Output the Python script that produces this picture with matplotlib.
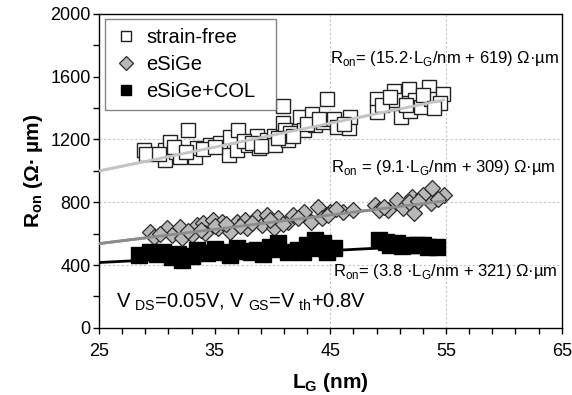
import numpy as np
import matplotlib.pyplot as plt
from matplotlib.ticker import MultipleLocator

plt.rcParams['font.family'] = ['Liberation Sans', 'DejaVu Sans']
plt.rcParams['mathtext.fontset'] = 'custom'
plt.rcParams['mathtext.rm'] = 'Liberation Sans'
plt.rcParams['mathtext.bf'] = 'Liberation Sans:bold'

# gate length (nm) / on-resistance (ohm*um)
lg_sf = [28.9, 29.1, 30.7, 31.1, 32.7, 30.7, 31.7, 32.0, 33.3, 33.5,
         34.6, 35.5, 36.2, 36.3, 37.0, 36.9, 37.9, 38.7, 38.8, 39.5,
         40.1, 40.2, 40.9, 40.9, 41.1, 41.3, 41.5,
         42.4, 42.7, 43.4, 43.7, 44.7, 44.4, 45.3, 45.6, 46.6, 46.7,
         49.0, 49.0, 50.5, 50.6, 51.1, 51.8, 51.9, 52.3, 52.8, 53.5, 53.7, 54.7, 54.5,
         30.2, 31.5, 32.5, 34.0, 35.0, 37.5, 38.2, 39.0, 40.5, 41.8,
         43.0, 44.0, 46.2, 49.5, 50.2, 51.5, 53.0, 54.0]
ron_sf = [1130, 1105, 1130, 1183, 1257, 1067, 1119, 1088, 1088, 1143,
          1162, 1175, 1098, 1215, 1257, 1130, 1162, 1225, 1143, 1194,
          1225, 1162, 1416, 1302, 1257, 1194, 1238,
          1342, 1257, 1365, 1289, 1460, 1310, 1333, 1278, 1270, 1342,
          1460, 1373, 1511, 1448, 1342, 1524, 1384, 1448, 1405, 1532, 1460, 1492, 1429,
          1110, 1150, 1120, 1140, 1150, 1190, 1180, 1160, 1210, 1220,
          1300, 1330, 1300, 1420, 1470, 1420, 1480, 1400]

lg_sige = [29.4, 29.8, 30.9, 31.3, 32.0, 32.2, 33.0, 33.5, 34.0, 34.2,
           34.9, 35.3, 35.6, 36.3, 36.9, 37.6, 37.8, 38.7, 39.1, 39.5,
           40.1, 40.5, 41.3, 41.8, 42.7, 43.3, 43.9, 44.3, 45.0, 46.1, 47.0,
           48.9, 49.2, 50.0, 50.8, 51.3, 52.1, 52.2, 53.0, 53.8, 53.7, 54.8,
           30.3, 32.7, 33.8, 35.0, 36.0, 37.2, 38.2, 39.8, 40.9, 42.2,
           44.8, 45.5, 49.6, 51.8, 52.6, 54.3]
ron_sige = [611, 580, 635, 590, 643, 571, 590, 654, 667, 603,
            686, 635, 675, 611, 675, 686, 635, 707, 654, 717,
            635, 698, 675, 717, 738, 675, 770, 698, 738, 738, 749,
            781, 749, 749, 813, 762, 834, 730, 844, 889, 794, 844,
            600, 620, 625, 650, 660, 650, 670, 690, 660, 700,
            720, 760, 770, 800, 810, 820]

lg_col = [28.5, 29.4, 30.5, 31.3, 32.2, 33.5, 34.3, 35.5, 36.3, 36.9,
          38.1, 38.7, 39.8, 40.5, 41.3, 42.2, 43.0, 43.7, 44.4, 44.7, 45.3,
          49.2, 49.8, 50.8, 51.6, 52.5, 53.4, 54.2,
          30.0, 31.8, 33.0, 35.0, 37.5, 39.2, 40.0, 42.6, 44.0, 50.2, 51.2, 53.0]
ron_col = [463, 484, 484, 453, 432, 495, 476, 484, 463, 508,
           484, 495, 516, 540, 484, 495, 527, 559, 540, 484, 508,
           559, 548, 540, 527, 527, 516, 516,
           470, 470, 460, 500, 490, 470, 500, 480, 510, 530, 520, 530]

# linear fits: slope, intercept, end of fitted range
fit_sf = (15.2, 619, 54.8)
fit_sige = (9.1, 309, 54.8)
fit_col = (3.8, 321, 54.2)

fig = plt.figure(figsize=(5.72, 3.95), dpi=100)
ax = fig.add_axes([0.173, 0.17, 0.809, 0.795])

for (k, b, xe), c in [(fit_sf, '#c4c4c4'), (fit_sige, '#8c8c8c'), (fit_col, 'black')]:
    xx = np.array([25, xe])
    ax.plot(xx, k * xx + b, color=c, lw=2, zorder=2)

ax.plot(lg_sf, ron_sf, 's', ms=9.5, mfc='white', mec='#222222', mew=1.0,
        label='strain-free', zorder=3)
ax.plot(lg_sige, ron_sige, 'D', ms=8, mfc='#b8b8b8', mec='#2a2a2a', mew=0.9,
        label='eSiGe', zorder=3)
ax.plot(lg_col, ron_col, 's', ms=11.5, mfc='black', mec='black',
        label='eSiGe+COL', zorder=3)

# fit lines for the two upper sets sit over their markers
for (k, b, xe), c in [(fit_sf, '#c4c4c4'), (fit_sige, '#8c8c8c')]:
    xx = np.array([25, xe])
    ax.plot(xx, k * xx + b, color=c, lw=2, zorder=4)

for x in (45, 55):
    ax.axvline(x, color='#c4c4c4', ls=(0, (2, 2)), lw=0.8, zorder=1)
for y in (400, 800, 1200):
    ax.axhline(y, color='#c4c4c4', ls=(0, (2, 2)), lw=0.8, zorder=1)

ax.set_xlim(25, 65)
ax.set_ylim(0, 2000)
ax.set_xticks([25, 35, 45, 55, 65])
ax.set_xticks(np.arange(25, 66, 2), minor=True)
ax.yaxis.set_major_locator(MultipleLocator(400))
ax.yaxis.set_minor_locator(MultipleLocator(200))
ax.tick_params(which='both', direction='out', length=4, width=1, labelsize=13,
               colors='black')
ax.tick_params(axis='y', pad=2)
ax.tick_params(axis='x', pad=7)
for s in ax.spines.values():
    s.set_linewidth(1.0)

ax.set_xlabel(r'$\mathbf{L_G}$ (nm)', fontsize=15, fontweight='bold', labelpad=8)
ax.set_ylabel(r'$\mathbf{R_{on}}$ ($\mathbf{\Omega}$· µm)', fontsize=15,
              fontweight='bold', labelpad=4)

leg = ax.legend(loc='upper left', fontsize=14.5, frameon=True, fancybox=False,
                handletextpad=0.4, handlelength=1.2, borderpad=0.45,
                labelspacing=0.4, bbox_to_anchor=(0.013, 0.985, 0.37, 0.0),
                mode='expand', borderaxespad=0.0)
leg.get_frame().set_edgecolor('#666666')
leg.get_frame().set_linewidth(1.0)
for h in leg.legend_handles:
    h.set_markersize(7.5)

ax.text(45.0, 1715, r'R$_{\rm on}$= (15.2·L$_{\rm G}$/nm + 619) Ω·µm',
        fontsize=12, va='center')
ax.text(45.1, 1022, r'R$_{\rm on}$ = (9.1·L$_{\rm G}$/nm + 309) Ω·µm',
        fontsize=12, va='center')
ax.text(45.2, 356, r'R$_{\rm on}$= (3.8 ·L$_{\rm G}$/nm + 321) Ω·µm',
        fontsize=12, va='center')
ax.text(26.5, 165, r'V$_{\ \rm DS}$=0.05V, V$_{\ \rm GS}$=V$_{\ \rm th}$+0.8V',
        fontsize=14.5, va='center')

fig.savefig('out.png', dpi=100)
